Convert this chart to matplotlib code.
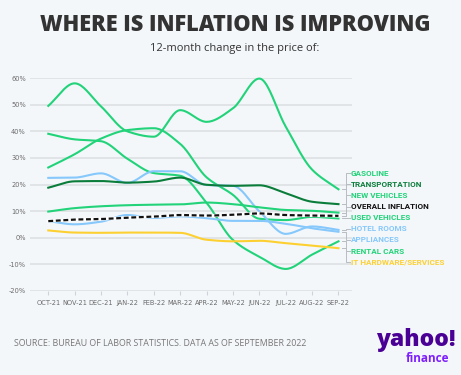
import numpy as np
import matplotlib
matplotlib.use("Agg")
import matplotlib.pyplot as plt

# ---- data ----
months = ["OCT-21", "NOV-21", "DEC-21", "JAN-22", "FEB-22", "MAR-22",
          "APR-22", "MAY-22", "JUN-22", "JUL-22", "AUG-22", "SEP-22"]

gasoline = [49.6, 58.1, 49.4, 40.0, 38.0, 48.0, 43.6, 48.7, 59.9, 41.8, 25.6, 18.2]
transportation = [18.8, 21.2, 21.3, 20.7, 21.1, 22.6, 19.9, 19.5, 19.7, 16.7, 13.5, 12.6]
new_vehicles = [9.8, 11.1, 11.8, 12.2, 12.4, 12.5, 13.2, 12.6, 11.4, 10.4, 10.1, 9.4]
overall = [6.2, 6.8, 7.0, 7.5, 7.9, 8.5, 8.3, 8.6, 9.1, 8.5, 8.3, 8.2]
used_vehicles = [26.4, 31.4, 37.3, 40.5, 41.2, 35.3, 22.7, 16.1, 7.1, 6.6, 7.8, 7.2]
hotel_rooms = [22.5, 22.6, 24.2, 20.6, 25.0, 25.0, 19.8, 19.5, 9.9, 1.4, 4.2, 2.9]
appliances = [6.2, 5.0, 6.0, 8.5, 7.4, 8.0, 7.3, 6.3, 6.3, 5.2, 3.5, 2.2]
rental_cars = [39.1, 37.0, 36.3, 29.7, 24.3, 23.3, 13.1, -0.9, -7.2, -11.8, -6.4, -1.4]
it_hardware = [2.7, 1.9, 1.8, 1.9, 1.9, 1.8, -0.8, -1.4, -1.2, -2.1, -3.0, -4.0]

labels = ["GASOLINE", "TRANSPORTATION", "NEW VEHICLES", "OVERALL INFLATION",
          "USED VEHICLES", "HOTEL ROOMS", "APPLIANCES", "RENTAL CARS",
          "IT HARDWARE/SERVICES"]
series = [gasoline, transportation, new_vehicles, overall, used_vehicles,
          hotel_rooms, appliances, rental_cars, it_hardware]

GREEN = "#22d37a"
DKGREEN = "#0b7d3b"
BLUE = "#86c8fb"
YELLOW = "#fdd032"
colors = [GREEN, DKGREEN, GREEN, "#111111", GREEN, BLUE, BLUE, GREEN, YELLOW]
BG = "#f4f7fa"


def monotone(x, y, n=20):
    """monotone cubic curve through the points (like d3 curveMonotoneX)"""
    x = np.asarray(x, float)
    y = np.asarray(y, float)
    h = np.diff(x)
    d = np.diff(y) / h
    m = np.zeros_like(y)
    m[0], m[-1] = d[0], d[-1]
    for i in range(1, len(y) - 1):
        if d[i - 1] * d[i] <= 0:
            m[i] = 0
        else:
            m[i] = 3 * (h[i - 1] + h[i]) / ((2 * h[i] + h[i - 1]) / d[i - 1] + (h[i] + 2 * h[i - 1]) / d[i])
    xs, ys = [], []
    for i in range(len(y) - 1):
        t = np.linspace(0, 1, n, endpoint=False)
        h00 = 2 * t**3 - 3 * t**2 + 1
        h10 = t**3 - 2 * t**2 + t
        h01 = -2 * t**3 + 3 * t**2
        h11 = t**3 - t**2
        xs.append(x[i] + t * h[i])
        ys.append(h00 * y[i] + h10 * h[i] * m[i] + h01 * y[i + 1] + h11 * h[i] * m[i + 1])
    xs.append([x[-1]])
    ys.append([y[-1]])
    return np.concatenate(xs), np.concatenate(ys)


fig = plt.figure(figsize=(4.61, 3.75), dpi=100, facecolor=BG)
ax = fig.add_axes([0.065, 0.2248, 0.699, 0.5664], facecolor=BG)

x = np.arange(len(months))
ax.set_xlim(-0.694, 11.52)
ax.set_ylim(-20, 60)

for yv in range(-20, 61, 10):
    ax.axhline(yv, color="#dfe2e6", lw=1.3, zorder=0)

# draw order: back to front
order = [4, 7, 0, 5, 6, 2, 1, 8, 3]
for i in order:
    xs, ys = monotone(x, series[i])
    if labels[i] == "OVERALL INFLATION":
        ax.plot(xs, ys, color="white", lw=2.2, zorder=5, clip_on=False)
        ax.plot(xs, ys, color="#111111", lw=1.6, dashes=(2.2, 1.2), zorder=6, clip_on=False)
    else:
        ax.plot(xs, ys, color=colors[i], lw=1.5, zorder=3, clip_on=False)

for s in ax.spines.values():
    s.set_visible(False)

ax.set_xticks(x)
ax.set_xticklabels(months)
ax.tick_params(axis="x", length=3, color="#cfd3d8", width=0.8, pad=4,
               labelsize=4.8, labelcolor="#6b6b6b")
ax.set_yticks(range(-20, 61, 10))
ax.set_yticklabels([f"{v}%" for v in range(-20, 61, 10)])
ax.tick_params(axis="y", length=0, pad=3, labelsize=4.8, labelcolor="#6b6b6b")

# right-hand labels with bracket connectors
label_top = 24.3
label_gap = 4.2
for i, lab in enumerate(labels):
    ly = label_top - i * label_gap
    ey = series[i][-1]
    xa, xb = 11.12, 11.3
    ax.plot([xa, xb, xb, xb + 0.12], [ey, ey, ly, ly], color="#b9bdc2",
            lw=0.7, zorder=2, clip_on=False)
    tc = colors[i] if lab != "OVERALL INFLATION" else "#111111"
    ax.text(11.47, ly, lab, color=tc, fontsize=5.9, fontweight="bold",
            family="Roboto", va="center", ha="left", clip_on=False)

fig.text(0.51, 0.933, "WHERE IS INFLATION IS IMPROVING", ha="center", va="center",
         fontsize=15.7, fontweight="heavy", family="Open Sans", color="#333333")
fig.text(0.51, 0.872, "12-month change in the price of:", ha="center", va="center",
         fontsize=8, family="Open Sans", color="#333333")

fig.text(0.03, 0.083, "SOURCE: BUREAU OF LABOR STATISTICS. DATA AS OF SEPTEMBER 2022",
         ha="left", va="center", fontsize=6.4, family="Open Sans", color="#777777")

# yahoo finance wordmark
fig.text(0.988, 0.076, "yahoo!", ha="right", va="baseline", fontsize=16.5,
         fontweight="heavy", family="Open Sans", color="#4a0095")
fig.text(0.974, 0.036, "finance", ha="right", va="baseline", fontsize=8.5,
         fontweight="bold", family="Open Sans", color="#7e1fff")

fig.savefig("out.png", dpi=100, facecolor=BG)
